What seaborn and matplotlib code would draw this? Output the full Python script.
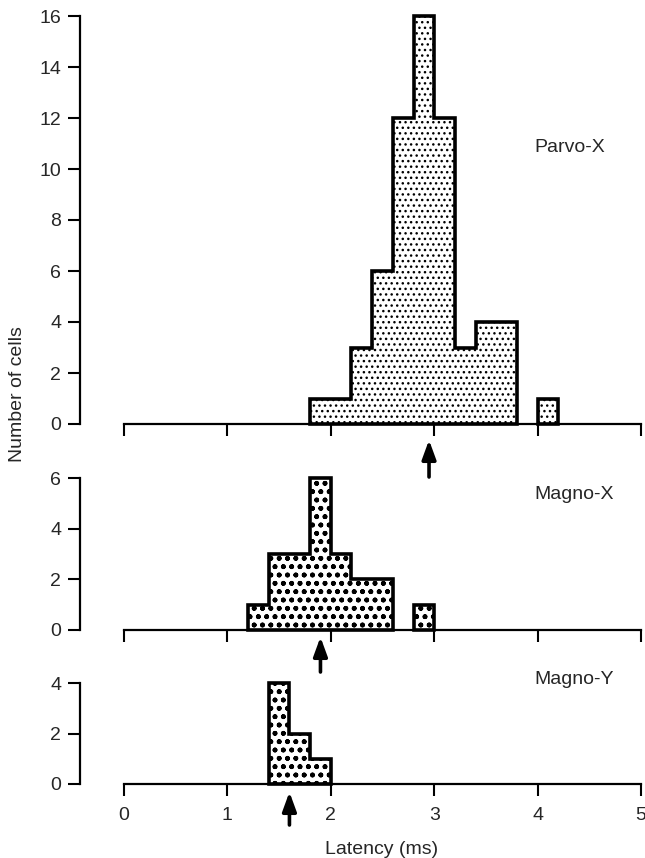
import numpy as np
import pandas as pd
import matplotlib
matplotlib.use("Agg")
import matplotlib.pyplot as plt
import seaborn as sns

sns.set_style("white")
plt.rcParams["font.family"] = ["Liberation Sans", "DejaVu Sans"]

# Latency histograms (bin width 0.2 ms): left bin edge and number of cells
parvo_x_left = [1.8, 2.0, 2.2, 2.4, 2.6, 2.8, 3.0, 3.2, 3.4, 3.6, 3.8, 4.0]
parvo_x_counts = [1, 1, 3, 6, 12, 16, 12, 3, 4, 4, 0, 1]

magno_x_left = [1.2, 1.4, 1.6, 1.8, 2.0, 2.2, 2.4, 2.6, 2.8]
magno_x_counts = [1, 3, 3, 6, 3, 2, 2, 0, 1]

magno_y_left = [1.4, 1.6, 1.8]
magno_y_counts = [4, 2, 1]

bin_width = 0.2

# Mean latency of each class (arrows under the axis)
mean_latency = {"Parvo-X": 2.95, "Magno-X": 1.9, "Magno-Y": 1.6}

panels = [
    ("Parvo-X", parvo_x_left, parvo_x_counts, [0, 2, 4, 6, 8, 10, 12, 14, 16]),
    ("Magno-X", magno_x_left, magno_x_counts, [0, 2, 4, 6]),
    ("Magno-Y", magno_y_left, magno_y_counts, [0, 2, 4]),
]

W, H = 645, 858
fig = plt.figure(figsize=(W / 100, H / 100), dpi=100)

# panel geometry in pixels: (y of zero line, pixels per count, y-limit top)
geom = [(424, 25.5, 16.5), (630, 25.33, 6.3), (784, 25.25, 4.3)]
x_left_px, x_zero_px, x_five_px = 80, 124, 641
px_per_ms = (x_five_px - x_zero_px) / 5.0
xmin = -(x_zero_px - x_left_px) / px_per_ms

# stipple per panel: (hatch pattern, hatch line width)
hatch_styles = [("...", 1.0), ("oo..", 1.1), ("oo..", 1.1)]
label_y = [10.86, 5.33, 4.12]
# arrow placement below the zero line, in pixels: (gap to tip, length)
arrow_px = [(16, 37), (7, 35), (8, 33)]


def contiguous_runs(lefts, counts):
    """Split the bins into runs of consecutive non-empty bins."""
    runs, cur = [], []
    for l, c in zip(lefts, counts):
        if c > 0:
            cur.append((l, c))
        elif cur:
            runs.append(cur)
            cur = []
    if cur:
        runs.append(cur)
    return runs


FS = 14
for i, (name, lefts, counts, yticks) in enumerate(panels):
    y0, ppu, ytop = geom[i]
    bottom = (H - y0) / H
    height = ytop * ppu / H
    ax = fig.add_axes([x_left_px / W, bottom, (x_five_px - x_left_px) / W, height])

    for run in contiguous_runs(lefts, counts):
        rl = np.array([r[0] for r in run], dtype=float)
        rc = [r[1] for r in run]
        edges = np.round(np.append(rl, rl[-1] + bin_width), 2).tolist()
        df = pd.DataFrame({"latency": rl + bin_width / 2, "cells": rc})
        sns.histplot(data=df, x="latency", weights="cells", bins=edges,
                     element="step", fill=True, color="white",
                     edgecolor="black", linewidth=2.6, alpha=1, ax=ax)
    hatch, hlw = hatch_styles[i]
    for coll in ax.collections:
        coll.set_facecolor("white")
        coll.set_edgecolor("black")
        coll.set_hatch(hatch)
        if hasattr(coll, "set_hatch_linewidth"):
            coll.set_hatch_linewidth(hlw)
        coll.set_clip_on(False)
        coll.set_joinstyle("miter")

    ax.set_xlim(xmin, 5)
    ax.set_ylim(0, ytop)
    ax.set_yticks(yticks)
    ax.set_xticks([0, 1, 2, 3, 4, 5])
    ax.set_xlabel("")
    ax.set_ylabel("")
    for s in ["top", "right"]:
        ax.spines[s].set_visible(False)
    ax.spines["left"].set_bounds(0, yticks[-1])
    ax.spines["bottom"].set_bounds(0, 5)
    for s in ["left", "bottom"]:
        ax.spines[s].set_linewidth(1.6)
        ax.spines[s].set_color("black")
        ax.spines[s].set_zorder(0.5)
    ax.tick_params(axis="both", direction="out", length=8.5, width=1.5,
                   color="black", labelsize=FS, bottom=True, left=True)
    ax.tick_params(axis="y", pad=5)
    ax.tick_params(axis="x", pad=8)
    if i < 2:
        ax.tick_params(axis="x", labelbottom=False)
    ax.patch.set_alpha(0)

    ax.text(3.97, label_y[i], name, fontsize=FS, ha="left", va="center")

    # arrow marking the mean latency, below the axis
    m = mean_latency[name]
    gap, length = arrow_px[i]
    tip = -gap / ppu
    tail = -(gap + length) / ppu
    ax.annotate("", xy=(m, tip), xytext=(m, tail),
                arrowprops=dict(arrowstyle="-|>,head_width=0.42,head_length=1.15",
                                lw=2.6, color="black", shrinkA=0, shrinkB=0),
                annotation_clip=False)

fig.text(18 / W, 1 - 394 / H, "Number of cells", rotation=90,
         ha="center", va="center", fontsize=FS)
fig.text(382 / W, 1 - 850 / H, "Latency (ms)", ha="center", va="center",
         fontsize=FS)

fig.savefig("out.png", dpi=100, facecolor="white")
